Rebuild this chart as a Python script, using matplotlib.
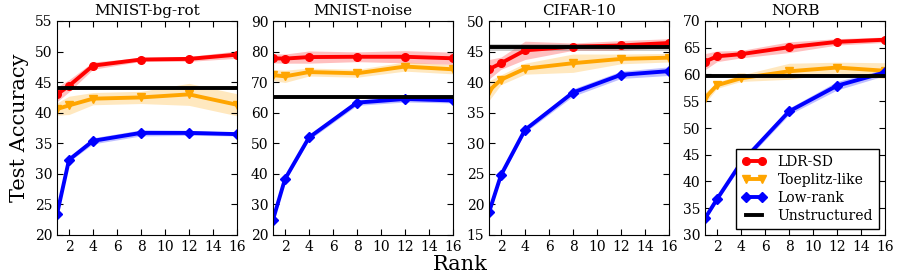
import numpy as np
import matplotlib
matplotlib.use('Agg')
from matplotlib import pyplot as plt

plt.rcParams['font.family'] = 'DejaVu Serif'
plt.rcParams['xtick.direction'] = 'in'
plt.rcParams['ytick.direction'] = 'in'
plt.rcParams['xtick.top'] = True
plt.rcParams['ytick.right'] = True

# ranks usados em todos os datasets
ranks = [1, 2, 4, 8, 12, 16]

titles = ['MNIST-bg-rot', 'MNIST-noise', 'CIFAR-10', 'NORB']

ldr_mean = [[43.0, 44.4, 47.7, 48.7, 48.8, 49.5],
            [77.8, 77.7, 78.2, 78.3, 78.3, 77.8],
            [42.1, 43.1, 45.2, 45.8, 46.0, 46.4],
            [62.4, 63.4, 63.8, 65.1, 66.1, 66.5]]
ldr_std = [[1.2, 1.0, 0.6, 0.3, 0.4, 0.6],
           [1.5, 1.5, 2.0, 1.6, 2.0, 2.0],
           [1.6, 1.0, 1.5, 0.6, 0.8, 0.7],
           [1.5, 1.0, 0.7, 1.0, 0.6, 0.5]]

toep_mean = [[40.6, 41.2, 42.3, 42.5, 43.0, 41.3],
             [72.3, 71.9, 73.3, 72.9, 75.1, 74.2],
             [38.6, 40.4, 42.2, 43.1, 43.8, 44.0],
             [55.6, 58.0, 59.3, 60.6, 61.3, 60.7]]
toep_std = [[1.0, 1.5, 1.0, 1.0, 1.8, 1.8],
            [1.8, 2.0, 1.3, 1.3, 1.5, 1.5],
            [1.6, 0.8, 0.9, 1.5, 0.8, 0.7],
            [1.0, 0.6, 0.6, 1.5, 1.0, 1.5]]

low_mean = [[23.4, 32.3, 35.4, 36.7, 36.7, 36.5],
            [25.0, 38.3, 51.9, 63.3, 64.5, 64.0],
            [18.7, 24.8, 32.2, 38.3, 41.2, 41.8],
            [33.1, 36.7, 43.5, 53.1, 57.9, 60.4]]
low_std = [[0.2, 0.3, 0.5, 0.5, 0.4, 0.3],
           [0.5, 0.6, 0.8, 0.9, 1.0, 0.8],
           [0.3, 0.3, 0.4, 0.6, 0.6, 0.7],
           [0.3, 0.4, 0.5, 0.6, 0.8, 0.6]]

unstruct = [44.0, 65.0, 45.7, 59.8]
unstruct_std = [0.1, 0.6, 0.6, 0.3]

ylims = [(20, 55), (20, 90), (15, 50), (30, 70)]
yticks = [np.arange(20, 56, 5), np.arange(20, 91, 10),
          np.arange(15, 51, 5), np.arange(30, 71, 5)]

fig = plt.figure(figsize=(8.99, 2.77), dpi=100)
lefts = [57, 273, 489, 705]
axes = []
for i in range(4):
    ax = fig.add_axes([lefts[i] / 899, 42 / 277, 180 / 899, 214 / 277])
    axes.append(ax)

    x = np.array(ranks)
    series = [(ldr_mean[i], ldr_std[i], 'red', 'o', 'LDR-SD'),
              (toep_mean[i], toep_std[i], 'orange', 'v', 'Toeplitz-like'),
              (low_mean[i], low_std[i], 'blue', 'D', 'Low-rank')]
    for m, s, c, mk, lab in series:
        m = np.array(m)
        s = np.array(s)
        ax.fill_between(x, m - s, m + s, color=c, alpha=0.25, lw=0)
        ax.plot(x, m, color=c, marker=mk, lw=2.8, ms=5.5, mec=c, label=lab)
    ax.axhspan(unstruct[i] - unstruct_std[i], unstruct[i] + unstruct_std[i],
               color='gray', alpha=0.4, lw=0)
    ax.axhline(unstruct[i], color='black', lw=2.8, label='Unstructured')

    ax.set_xlim(1, 16)
    ax.set_xticks(range(2, 17, 2))
    ax.set_ylim(*ylims[i])
    ax.set_yticks(yticks[i])
    ax.set_title(titles[i], fontsize=11, pad=4)
    ax.tick_params(labelsize=10, length=4)

axes[0].set_ylabel('Test Accuracy', fontsize=15)
fig.text(460 / 899, 12 / 277, 'Rank', ha='center', va='center', fontsize=15)

leg = axes[3].legend(loc='lower right', fontsize=10, fancybox=False,
                     framealpha=1, edgecolor='black', borderaxespad=0.45,
                     handlelength=1.8, labelspacing=0.3, numpoints=2,
                     handletextpad=0.8, borderpad=0.4)
leg.get_frame().set_linewidth(1)

fig.savefig('out.png', dpi=100)
